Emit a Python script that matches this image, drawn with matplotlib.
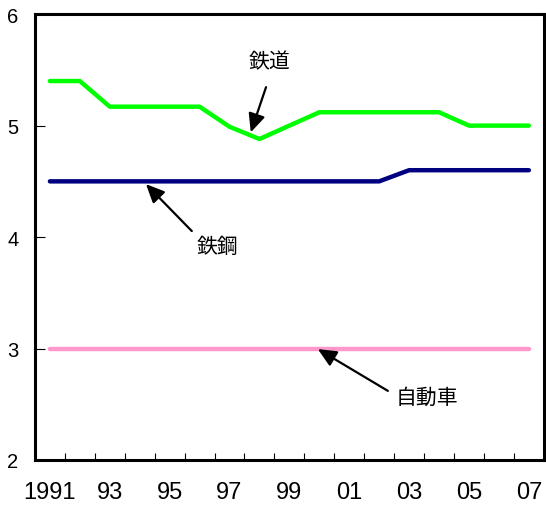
import numpy as np
import matplotlib.pyplot as plt

plt.rcParams['font.family'] = ['Liberation Sans', 'DejaVu Sans']

years = np.arange(1991, 2008)
railway = [5.40, 5.40, 5.17, 5.17, 5.17, 5.17, 4.99, 4.88, 5.00, 5.12,
           5.12, 5.12, 5.12, 5.12, 5.00, 5.00, 5.00]
steel = [4.50] * 12 + [4.60] * 5
auto = [3.00] * 17
tick_labels = ['1991', '93', '95', '97', '99', '01', '03', '05', '07']

fig = plt.figure(figsize=(5.46, 5.06), dpi=100)
ax = fig.add_axes([0.064, 0.089, 0.932, 0.881])

ax.plot(years, railway, color='#00ff00', lw=3.2, solid_capstyle='round', solid_joinstyle='round')
ax.plot(years, steel, color='#000080', lw=3.2, solid_capstyle='round', solid_joinstyle='round')
ax.plot(years, auto, color='#ff99cc', lw=3.2, solid_capstyle='round')

ax.set_xlim(1990.5, 2007.5)
ax.set_ylim(2, 6)

# year labels every other year, tick marks on the boundaries between years
ax.set_xticks(years[::2])
ax.set_xticklabels(tick_labels, fontsize=17)
ax.set_xticks(years[:-1] + 0.5, minor=True)
ax.tick_params(axis='x', which='major', length=0, pad=15)
ax.tick_params(axis='x', which='minor', direction='in', length=5, width=0.8)
ax.set_yticks([2, 3, 4, 5, 6])
ax.set_yticklabels(['2', '3', '4', '5', '6'], fontsize=14.5)
ax.tick_params(axis='y', direction='in', length=7, width=0.8, pad=12)

for s in ax.spines.values():
    s.set_linewidth(2.2)

jp = ['Noto Sans CJK JP', 'DejaVu Sans']
arrow = dict(arrowstyle='-|>,head_length=0.7,head_width=0.32', color='black',
             lw=1.6, mutation_scale=16, shrinkA=0, shrinkB=0)

# 鉄道
ax.text(1998.35, 5.58, '鉄道', fontsize=15, family=jp, ha='center', va='center')
ax.annotate('', xy=(1997.71, 4.94), xytext=(1998.22, 5.345), arrowprops=arrow)
# 鉄鋼
ax.text(1996.61, 3.92, '鉄鋼', fontsize=15, family=jp, ha='center', va='center')
ax.annotate('', xy=(1994.21, 4.475), xytext=(1995.74, 4.054), arrowprops=arrow)
# 自動車
ax.text(2003.59, 2.565, '自動車', fontsize=15, family=jp, ha='center', va='center')
ax.annotate('', xy=(1999.95, 2.995), xytext=(2002.29, 2.62), arrowprops=arrow)

fig.savefig('out.png', dpi=100)
